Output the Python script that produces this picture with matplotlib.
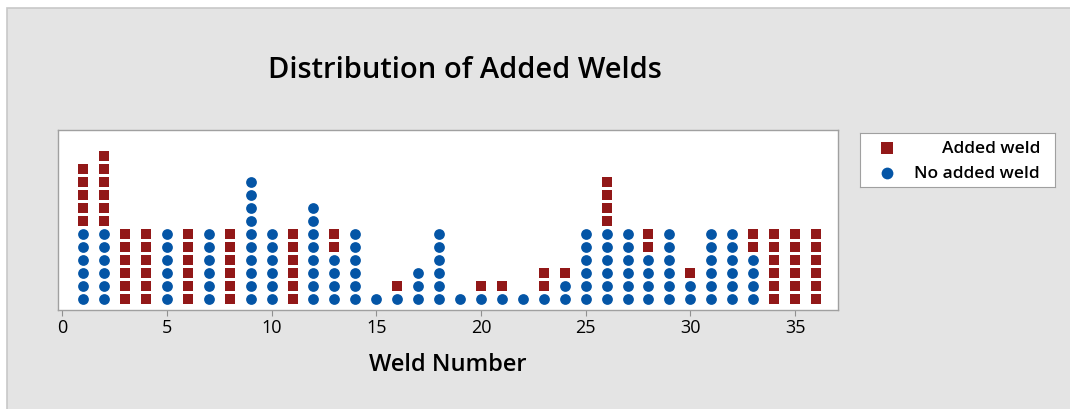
import matplotlib
matplotlib.use('Agg')
import matplotlib.pyplot as plt
from matplotlib.patches import Rectangle

# data
welds = list(range(1, 37))
no_added = [6, 6, 0, 0, 6, 0, 6, 0, 10, 6, 0, 8, 4, 6, 1, 1, 3, 6,
            1, 1, 1, 1, 1, 2, 6, 6, 6, 4, 6, 2, 6, 6, 4, 0, 0, 0]
added = [5, 6, 6, 6, 0, 6, 0, 6, 0, 0, 6, 0, 2, 0, 0, 1, 0, 0,
         0, 1, 1, 0, 2, 1, 0, 4, 0, 2, 0, 1, 0, 0, 2, 6, 6, 6]
series = ['Added weld', 'No added weld']
x_ticks = [0, 5, 10, 15, 20, 25, 30, 35]

RED = '#921818'
BLUE = '#0455a6'
plt.rcParams['font.family'] = ['Open Sans', 'DejaVu Sans']

W, H = 1070, 410
fig = plt.figure(figsize=(W / 100, H / 100), dpi=100)
fig.patch.set_facecolor('white')
fig.add_artist(Rectangle((7 / W, -0.05), 1.1, 1.05 - 9 / H, transform=fig.transFigure,
                         facecolor='#e4e4e4', edgecolor='#c8c8c8', lw=1.2,
                         zorder=-10))

def box(x0, y0, x1, y1):
    return [x0 / W, 1 - y1 / H, (x1 - x0) / W, (y1 - y0) / H]

ax = fig.add_axes(box(58, 131, 838, 311))
ax.set_facecolor('white')

# stack the dots: no added weld on the bottom, added weld on top
bx, by, rx, ry = [], [], [], []
for w, n, a in zip(welds, no_added, added):
    for i in range(n):
        bx.append(w)
        by.append(i + 1)
    for i in range(a):
        rx.append(w)
        ry.append(n + i + 1)

ax.scatter(bx, by, s=60, marker='o', color=BLUE, linewidths=0, zorder=3)
ax.scatter(rx, ry, s=58, marker='s', color=RED, linewidths=0, zorder=3)

ax.set_xlim(-0.2, 37.05)
ax.set_ylim(0.15, 14.0)
ax.set_yticks([])
ax.set_xticks(x_ticks)
ax.tick_params(axis='x', direction='out', length=4, color='#909090',
               labelsize=13, pad=2)
for s in ax.spines.values():
    s.set_color('#a0a0a0')
    s.set_linewidth(1.0)

ax.set_xlabel('Weld Number', fontsize=17, fontweight='semibold', labelpad=11)
fig.text(465 / W, 1 - 71 / H, 'Distribution of Added Welds', fontsize=21,
         fontweight='semibold', ha='center', va='center')

# legend box
lax = fig.add_axes(box(860, 134, 1055, 188))
lax.set_xlim(0, 195)
lax.set_ylim(54, 0)
lax.set_xticks([])
lax.set_yticks([])
for s in lax.spines.values():
    s.set_color('#a0a0a0')
lax.scatter([27], [15], s=66, marker='s', color=RED, linewidths=0)
lax.scatter([27], [40], s=72, marker='o', color=BLUE, linewidths=0)
lax.text(180, 15, series[0], fontsize=12.5, fontweight='semibold', ha='right', va='center')
lax.text(180, 40, series[1], fontsize=12.5, fontweight='semibold', ha='right', va='center')

fig.savefig('out.png', dpi=100, facecolor=fig.get_facecolor())
